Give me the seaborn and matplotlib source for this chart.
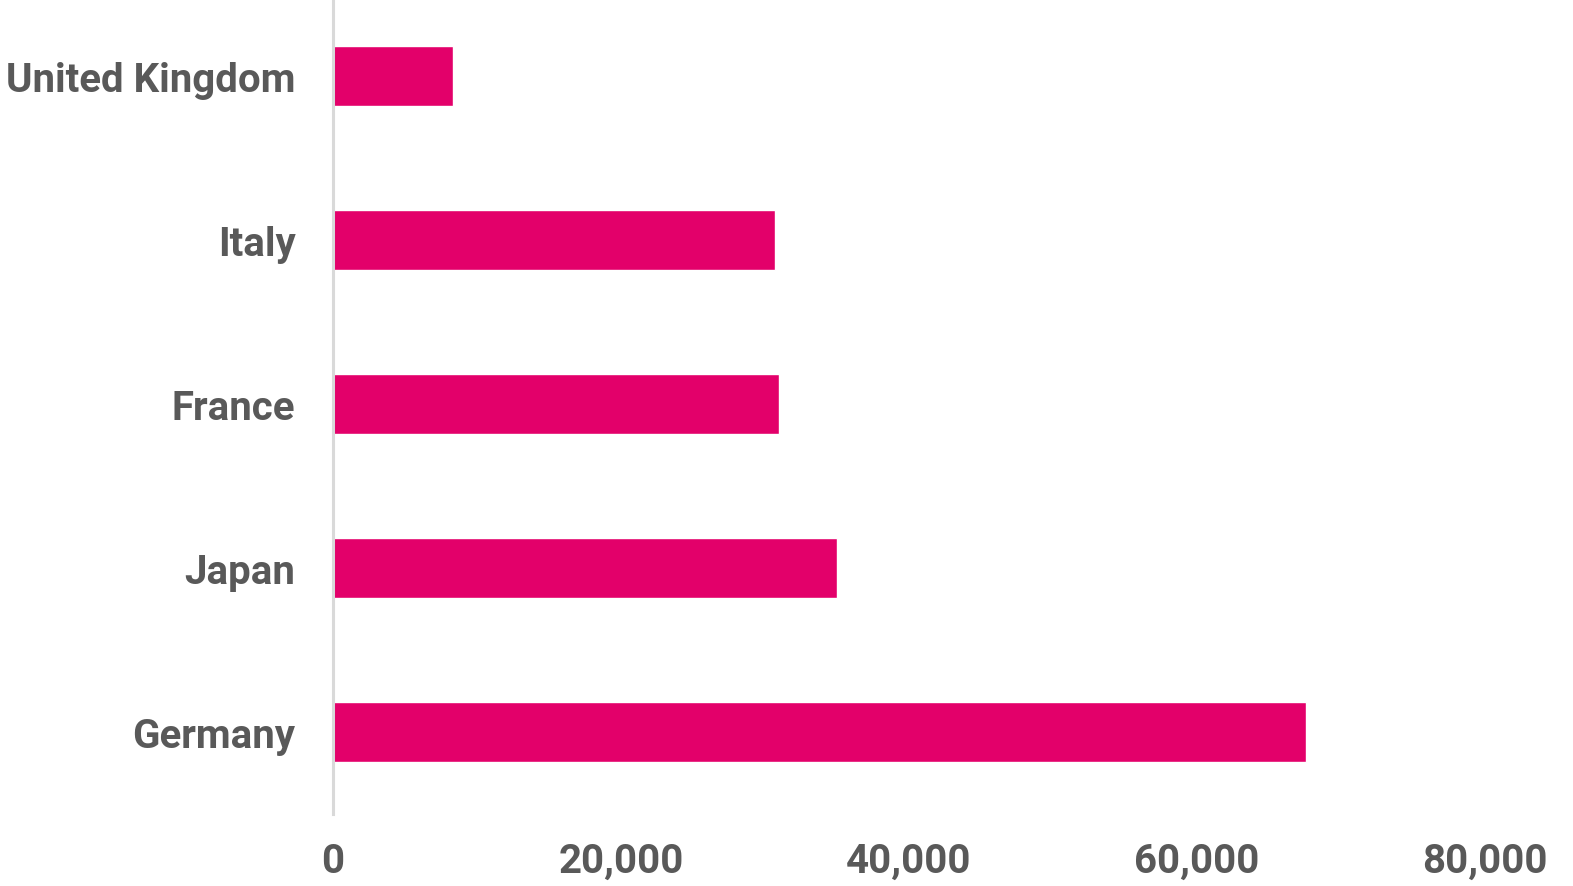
import matplotlib
matplotlib.use("Agg")
import matplotlib.pyplot as plt
import seaborn as sns
import pandas as pd
from matplotlib.ticker import FuncFormatter

countries = ["United Kingdom", "Italy", "France", "Japan", "Germany"]
values = [8300, 30700, 31000, 35000, 67600]
xticks = [0, 20000, 40000, 60000, 80000]

sns.set_theme(style="white")
plt.rcParams['font.family'] = ['Roboto', 'DejaVu Sans']

df = pd.DataFrame({"country": countries, "value": values})

fig = plt.figure(figsize=(15.73, 8.87), dpi=100)
ax = fig.add_axes([333/1573, 1 - 815/887, (1485-333)/1573, (815+5)/887])

sns.barplot(data=df, x="value", y="country", order=countries, orient="h",
            color="#E3006A", saturation=1, width=0.36, ax=ax)

ax.set_xlim(0, 80000)
ax.set_ylim(4.5, -0.5)
ax.set_xticks(xticks)
ax.xaxis.set_major_formatter(FuncFormatter(lambda v, p: f"{int(v):,}"))
ax.set_xlabel("")
ax.set_ylabel("")

for s in ["top", "right", "bottom"]:
    ax.spines[s].set_visible(False)
ax.spines["left"].set_color("#D9D9D9")
ax.spines["left"].set_linewidth(2.2)

ax.tick_params(axis="both", length=0, labelcolor="#595959", labelsize=29)
ax.tick_params(axis="y", pad=27)
ax.tick_params(axis="x", pad=20)
for lab in ax.get_xticklabels() + ax.get_yticklabels():
    lab.set_fontweight("semibold")

fig.savefig("out.png", dpi=100)
